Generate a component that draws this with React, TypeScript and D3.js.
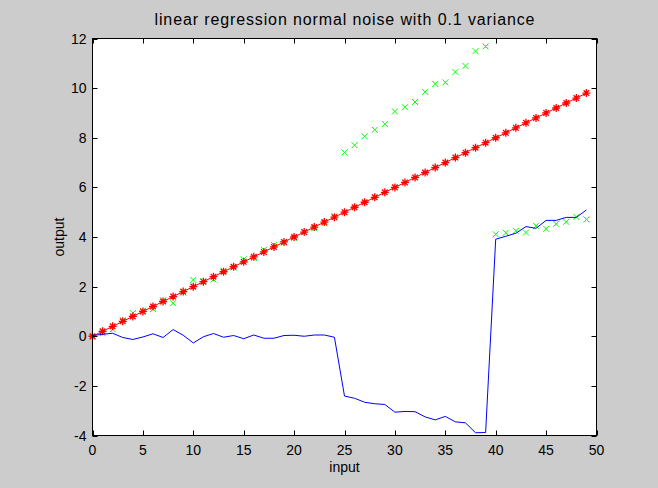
import React from 'react';
import * as d3 from 'd3';

const inputs = [0,1,2,3,4,5,6,7,8,9,10,11,12,13,14,15,16,17,18,19,20,21,22,23,24,25,26,27,28,29,30,31,32,33,34,35,36,37,38,39,40,41,42,43,44,45,46,47,48,49];

const predicted = [0,0.2,0.4,0.6,0.8,1.0,1.2,1.4,1.6,1.8,2.0,2.2,2.4,2.6,2.8,3.0,3.2,3.4,3.6,3.8,4.0,4.2,4.4,4.6,4.8,5.0,5.2,5.4,5.6,5.8,6.0,6.2,6.4,6.6,6.8,7.0,7.2,7.4,7.6,7.8,8.0,8.2,8.4,8.6,8.8,9.0,9.2,9.4,9.6,9.8];

const observed = [-0.03,0.12,0.28,0.65,0.93,1.03,1.1,1.45,1.33,1.76,2.27,2.22,2.29,2.64,2.77,3.1,3.15,3.48,3.68,3.77,3.96,4.2,4.35,4.55,4.84,7.41,7.7,8.06,8.32,8.55,9.06,9.23,9.44,9.85,10.17,10.23,10.65,10.89,11.49,11.68,4.11,4.17,4.25,4.18,4.45,4.33,4.53,4.61,4.81,4.71];

const residual = [0.03,0.08,0.12,-0.05,-0.13,-0.03,0.1,-0.05,0.27,0.04,-0.27,-0.02,0.11,-0.04,0.03,-0.1,0.05,-0.08,-0.08,0.03,0.04,0.0,0.05,0.05,-0.04,-2.41,-2.5,-2.66,-2.72,-2.75,-3.06,-3.03,-3.04,-3.25,-3.37,-3.23,-3.45,-3.49,-3.89,-3.88,3.91,4.03,4.15,4.42,4.35,4.67,4.67,4.79,4.79,5.09];

const xTicks = [0,5,10,15,20,25,30,35,40,45,50];
const yTicks = [-4,-2,0,2,4,6,8,10,12];

const titleText = 'linear regression normal noise with 0.1 variance';
const xLabel = 'input';
const yLabel = 'output';

const W = 658, H = 488;
const L = 92.5, R = 596.5, T = 38.5, B = 435.5;
const FONT = '"Liberation Sans", Arial, Helvetica, sans-serif';

const starPath = 'M-4,0H4M0,-4V4M-2.8,-2.8L2.8,2.8M-2.8,2.8L2.8,-2.8';
const crossPath = 'M-3,-3L3,3M-3,3L3,-3';

export default function App() {
  const x = d3.scaleLinear().domain([0, 50]).range([L, R]);
  const y = d3.scaleLinear().domain([-4, 12]).range([B, T]);
  const mk = (vals: number[]) =>
    d3.line<number>().x((_, i) => x(inputs[i])).y((d) => y(d))(vals) || '';

  return (
    <svg width={W} height={H} style={{ position: 'absolute', left: 0, top: 0, display: 'block' }} fontFamily={FONT}>
      <rect x={0} y={0} width={W} height={H} fill="#cccccc" />
      <rect x={L} y={T} width={R - L} height={B - T} fill="#ffffff" />

      {/* green observed x markers */}
      <g stroke="#00ff00" strokeWidth={1} fill="none">
        {observed.map((v, i) => (
          <path key={i} d={crossPath} transform={`translate(${x(inputs[i])},${y(v)})`} />
        ))}
      </g>

      {/* red prediction line with asterisks */}
      <path d={mk(predicted)} stroke="#ff0000" strokeWidth={1} fill="none" />
      <g stroke="#ff0000" strokeWidth={1.3} fill="none">
        {predicted.map((v, i) => (
          <path key={i} d={starPath} transform={`translate(${x(inputs[i])},${y(v)})`} />
        ))}
      </g>

      {/* blue residual line */}
      <path d={mk(residual)} stroke="#0000ff" strokeWidth={1} fill="none" />

      {/* axes box */}
      <rect x={L} y={T} width={R - L} height={B - T} fill="none" stroke="#000" strokeWidth={1} />

      {/* ticks */}
      <g stroke="#000" strokeWidth={1}>
        {xTicks.map((t) => (
          <g key={'x' + t}>
            <line x1={Math.round(x(t)) + 0.5} x2={Math.round(x(t)) + 0.5} y1={B} y2={B - 5} />
            <line x1={Math.round(x(t)) + 0.5} x2={Math.round(x(t)) + 0.5} y1={T} y2={T + 5} />
          </g>
        ))}
        {yTicks.map((t) => (
          <g key={'y' + t}>
            <line x1={L} x2={L + 5} y1={Math.round(y(t)) + 0.5} y2={Math.round(y(t)) + 0.5} />
            <line x1={R} x2={R - 5} y1={Math.round(y(t)) + 0.5} y2={Math.round(y(t)) + 0.5} />
          </g>
        ))}
      </g>

      {/* tick labels */}
      <g fontSize={14} fill="#000">
        {xTicks.map((t) => (
          <text key={'xl' + t} x={x(t)} y={455} textAnchor="middle">{t}</text>
        ))}
        {yTicks.map((t) => (
          <text key={'yl' + t} x={L - 6} y={y(t) + 5} textAnchor="end">{t}</text>
        ))}
      </g>

      <text x={(L + R) / 2} y={472} textAnchor="middle" fontSize={14} fill="#000">{xLabel}</text>
      <text transform={`translate(64,${(T + B) / 2}) rotate(-90)`} textAnchor="middle" fontSize={14} fill="#000">{yLabel}</text>
      <text x={(L + R) / 2} y={25} textAnchor="middle" fontSize={16} fill="#000" textLength={380} lengthAdjust="spacing">{titleText}</text>
    </svg>
  );
}
